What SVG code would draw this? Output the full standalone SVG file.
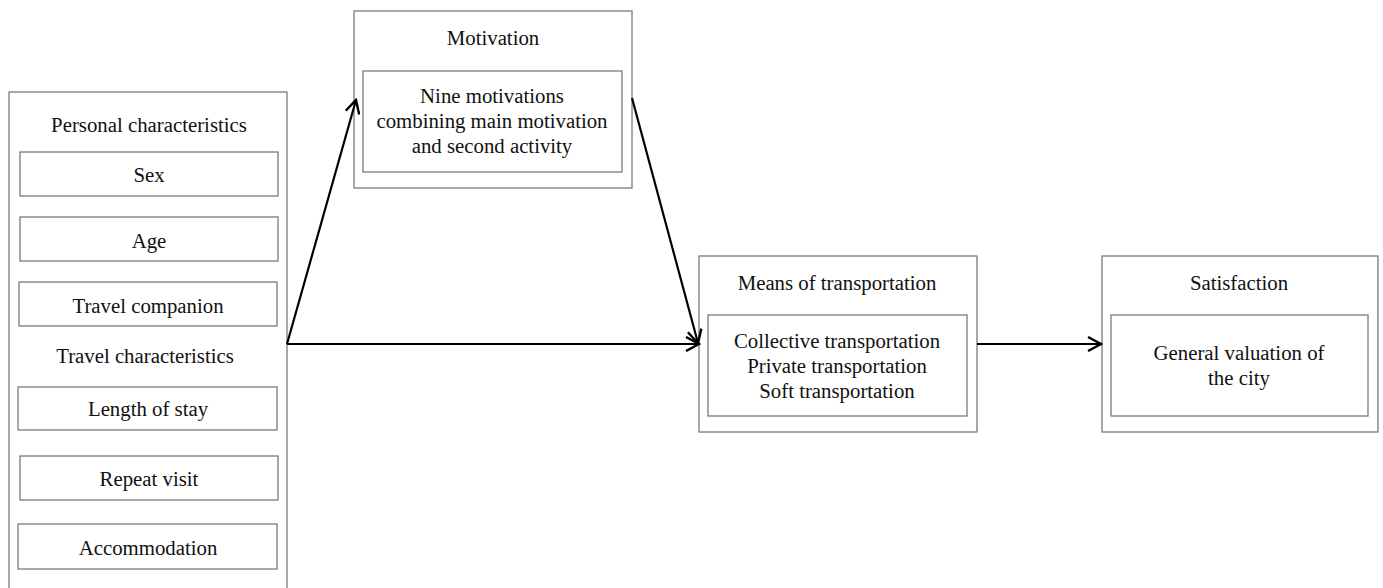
<svg xmlns="http://www.w3.org/2000/svg" width="1383" height="588" viewBox="0 0 1383 588">
<style>
.box{fill:#fff;stroke:#7a7a7a;stroke-width:1.3}
.t{font-family:"Liberation Serif","Times New Roman",serif;font-size:20.8px;fill:#111;text-anchor:middle}
.c{fill:none;stroke:#000;stroke-width:2.2}
</style>
<defs>
<marker id="ah" viewBox="0 0 16 16" refX="14" refY="8" markerWidth="16" markerHeight="16" markerUnits="userSpaceOnUse" orient="auto">
<path d="M1,1 L14,8 L1,15" fill="none" stroke="#000" stroke-width="2.4"/>
</marker>
</defs>
<rect width="1383" height="588" fill="#fff"/>
<g id="personal">
<rect class="box" x="9" y="92" width="278" height="510"/>
<text class="t" x="149" y="132">Personal characteristics</text>
<rect class="box" x="20" y="152" width="258" height="44"/>
<text class="t" x="149" y="182">Sex</text>
<rect class="box" x="20" y="217" width="258" height="44"/>
<text class="t" x="149" y="248">Age</text>
<rect class="box" x="19" y="282" width="258" height="44"/>
<text class="t" x="148" y="313">Travel companion</text>
<text class="t" x="145" y="363">Travel characteristics</text>
<rect class="box" x="18" y="387" width="259" height="43"/>
<text class="t" x="148" y="416">Length of stay</text>
<rect class="box" x="20" y="456" width="258" height="44"/>
<text class="t" x="149" y="486">Repeat visit</text>
<rect class="box" x="18" y="524" width="259" height="45"/>
<text class="t" x="148" y="555">Accommodation</text>
</g>
<g id="motivation">
<rect class="box" x="354" y="11" width="278" height="177"/>
<text class="t" x="493" y="45">Motivation</text>
<rect class="box" x="363" y="71" width="259" height="101"/>
<text class="t" x="492" y="103">Nine motivations</text>
<text class="t" x="492" y="128">combining main motivation</text>
<text class="t" x="492" y="153">and second activity</text>
</g>
<g id="transport">
<rect class="box" x="699" y="256" width="278" height="176"/>
<text class="t" x="837" y="290">Means of transportation</text>
<rect class="box" x="708" y="315" width="259" height="101"/>
<text class="t" x="837" y="348">Collective transportation</text>
<text class="t" x="837" y="373">Private transportation</text>
<text class="t" x="837" y="398">Soft transportation</text>
</g>
<g id="satisfaction">
<rect class="box" x="1102" y="256" width="276" height="176"/>
<text class="t" x="1239" y="290">Satisfaction</text>
<rect class="box" x="1111" y="315" width="257" height="101"/>
<text class="t" x="1239" y="360">General valuation of</text>
<text class="t" x="1239" y="385">the city</text>
</g>
<g id="connectors">
<path class="c" d="M287,344 L356,100" marker-end="url(#ah)"/>
<path class="c" d="M632,98 L698,343" marker-end="url(#ah)"/>
<path class="c" d="M287,344 L699,344" marker-end="url(#ah)"/>
<path class="c" d="M977,344 L1101,344" marker-end="url(#ah)"/>
</g>
</svg>
